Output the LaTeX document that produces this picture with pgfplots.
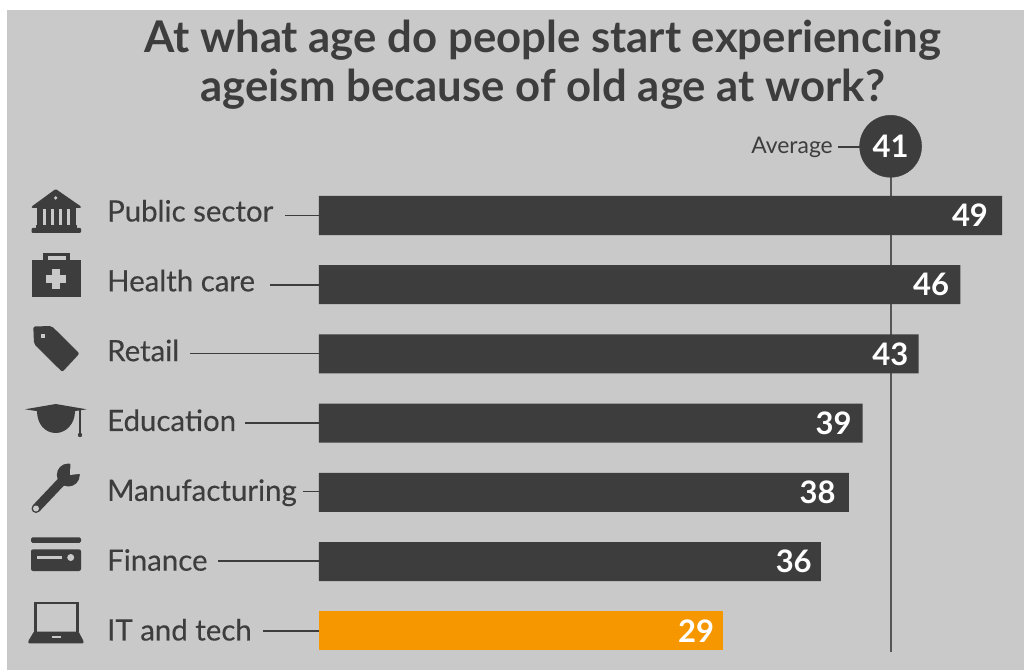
\documentclass[border=0pt]{standalone}
\usepackage{fontspec}
\setmainfont{Lato}
\usepackage{pgfplots}
\pgfplotsset{compat=1.18}
\usepackage{pgfplotstable}

\definecolor{bg}{HTML}{C9C9C9}
\definecolor{ink}{HTML}{3D3D3D}
\definecolor{hi}{HTML}{F79700}
\definecolor{rule}{HTML}{555555}
\newcommand{\lab}{\addfontfeature{FakeBold=0.25}}
\def\insets{{14,11,10,11,13,9}}

\pgfplotstableread{
y x
0 49
1 46
2 43
3 39
4 38
5 36
}\others
\pgfplotstableread{
y x
6 29
}\ittech

\begin{document}
\begin{tikzpicture}
\path[use as bounding box] (0,0) rectangle (1024pt,670pt);
\fill[bg] (7pt,0) rectangle (1024pt,660pt);

\begin{axis}[
  at={(0,0)}, anchor=south west,
  scale only axis, width=1024pt, height=670pt,
  xmin=-22.88, xmax=50.57,
  y dir=reverse, ymin=-3.114, ymax=6.568,
  clip=false,
  axis line style={draw=none},
  xtick=\empty,
  ytick={0,1,2,3,4,5,6},
  yticklabels={Public sector,Health care,Retail,Education,Manufacturing,Finance,IT and tech},
  major tick length=0pt,
  y tick label style={anchor=base west, xshift=107pt, yshift={-(6+0.63*\ticknum)*1pt},
    font=\fontsize{29.4}{32}\selectfont\lab, text=ink, inner sep=0pt},
  title={At what age do people start experiencing\\ageism because of old age at work?},
  title style={at={(axis description cs:0.53,0.895)}, anchor=center, align=center, inner sep=0pt,
    font=\fontsize{43.7}{49}\selectfont\bfseries, text=ink},
  /pgf/number format/assume math mode=true,
  nodes near coords style={text=white, inner sep=0pt, font=\fontsize{31}{32}\selectfont\bfseries},
]
% average line, behind the bars
\addplot[rule, line width=2pt, forget plot] coordinates {(41,-1) (41,6.31)};
\addplot[xbar, bar width=39pt, bar shift=0pt, fill=ink, draw=none, point meta=x,
  nodes near coords, nodes near coords style={anchor=east, xshift={-1pt*\insets[\coordindex]}}]
  table[x=x, y=y] {\others};
\addplot[xbar, bar width=39pt, bar shift=0pt, fill=hi, draw=none, point meta=x,
  nodes near coords, nodes near coords style={anchor=east, xshift=-9pt}]
  table[x=x, y=y] {\ittech};
\addplot[only marks, mark=*, mark size=31pt, mark options={fill=ink, draw=ink}, point meta=x,
  nodes near coords, nodes near coords align={center}, nodes near coords style={anchor=center}]
  coordinates {(41,-1)};
\end{axis}

\begin{scope}[x=1pt, y=-1pt, yshift=670pt]
% leader lines
\draw[ink, line width=1.6pt]
  (285,215.5) -- (319,215.5) (270,285) -- (319,285) (190,353.5) -- (319,353.5)
  (245,423) -- (319,423) (303,491.5) -- (319,491.5) (218,561) -- (319,561)
  (263,631) -- (319,631);
\draw[ink, line width=1.4pt] (838,147) -- (860,147);
\node[anchor=east, inner sep=0pt, text=ink, font=\fontsize{22.9}{24}\selectfont] at (833,147) {Average};

% bank
\fill[ink, rounded corners=1pt] (31.7,206.5) -- (55.7,189) -- (81,206.5) -- (81,208) -- (31.7,208) -- cycle;
\fill[ink] (37,208) rectangle (76,226);
\fill[bg] (55.7,198) circle (1.8);
\foreach \x in {42.5,50.5,58.7,66.8} \fill[bg] (\x,209) rectangle +(3.2,16);
\fill[ink] (36,225) rectangle (77,228);
\fill[ink, rounded corners=1pt] (31.7,228) rectangle (81,233);

% first aid kit
\fill[ink] (31.7,260) rectangle (81,297.5);
\fill[ink] (43,253) rectangle (70,261);
\fill[bg] (47.5,256.5) rectangle (66,260);
\fill[bg] (52,269) rectangle (60,289);
\fill[bg] (46,275) rectangle (66,283);

% tag
\fill[ink, rounded corners=2pt] (33.3,326.5) -- (51.7,326) -- (79.5,353.5) -- (62.3,372) -- (34,344) -- cycle;
\fill[bg] (40.5,333.5) rectangle (44.5,337.5);

% graduation cap
\fill[ink] (25,409.3) -- (55.7,404) -- (86.7,409.3) -- (56,414) -- cycle;
\fill[ink] (37,411) .. controls (37,424) and (45,433) .. (55.7,433)
  .. controls (66,433) and (75,424) .. (75,411) -- cycle;
\fill[ink] (79.2,410) rectangle (81,434);
\fill[ink] (80,435) circle (2.2);

% wrench
\draw[ink, line width=9pt, line cap=round] (36,508.5) -- (63,480);
\fill[ink] (68.3,475) circle (11.5);
\fill[bg] (70,475) -- (70.5,462) -- (76,460) -- (84,468) -- (82,473.5) -- cycle;
\fill[bg] (36,508.5) circle (3);

% credit card
\fill[ink, rounded corners=1.5pt] (31,537.3) rectangle (81,542.8);
\fill[ink, rounded corners=2pt] (31,549.3) rectangle (81,571);
\fill[bg] (37.3,556) rectangle (61.7,559.3);
\fill[bg] (70.7,557.5) circle (3.5);

% laptop
\draw[ink, line width=2.5pt] (35.5,632) -- (35.5,603) -- (77.5,603) -- (77.5,632);
\fill[ink, rounded corners=1pt] (34,631.5) -- (78.5,631.5) -- (83.5,641) -- (83.5,643.3) -- (28.3,643.3) -- (28.3,641) -- cycle;
\fill[bg] (51.7,636) rectangle (60.7,638.3);
\end{scope}
\end{tikzpicture}
\end{document}
